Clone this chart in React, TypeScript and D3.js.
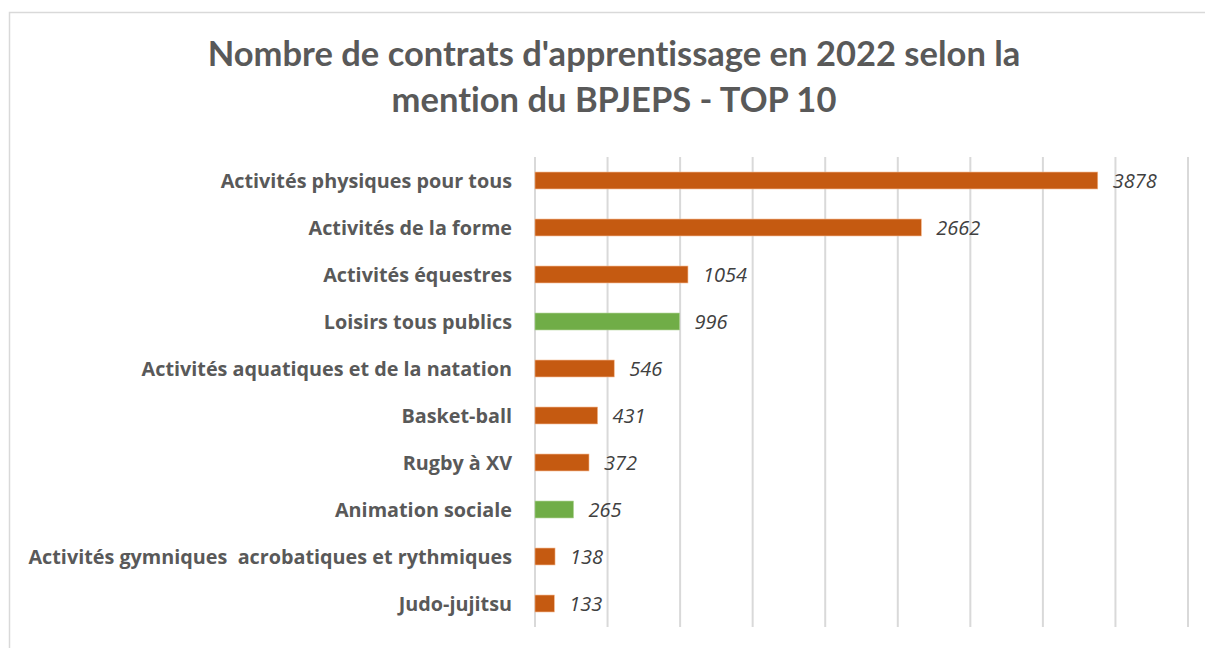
import React from "react";
import * as d3 from "d3";

const categories = [
  "Activités physiques pour tous",
  "Activités de la forme",
  "Activités équestres",
  "Loisirs tous publics",
  "Activités aquatiques et de la natation",
  "Basket-ball",
  "Rugby à XV",
  "Animation sociale",
  "Activités gymniques  acrobatiques et rythmiques",
  "Judo-jujitsu",
];
const values = [3878, 2662, 1054, 996, 546, 431, 372, 265, 138, 133];
const groups = ["sport", "sport", "sport", "animation", "sport", "sport", "sport", "animation", "sport", "sport"];
const ticks = [0, 500, 1000, 1500, 2000, 2500, 3000, 3500, 4000, 4500];
const titleLines = ["Nombre de contrats d'apprentissage en 2022 selon la", "mention du BPJEPS - TOP 10"];

const W = 1205;
const H = 648;
const TFONT = "Lato, 'Open Sans', sans-serif";
const LFONT = "'Open Sans', Lato, sans-serif";

export default function App() {
  const x = d3.scaleLinear().domain([0, 4500]).range([535, 1188]);
  const y = d3.scaleBand<string>().domain(categories).range([157, 627]).paddingInner(0.64).paddingOuter(0.32);
  const color = d3.scaleOrdinal<string, string>().domain(["sport", "animation"]).range(["#C55A11", "#70AD47"]);

  return (
    <div style={{ position: "absolute", left: 0, top: 0 }}>
      <svg width={W} height={H} style={{ display: "block" }}>
        <rect x={0} y={0} width={W} height={H} fill="#fff" />
        <rect x={9.5} y={12.5} width={W + 10} height={H + 10} fill="none" stroke="#d9d9d9" strokeWidth={1.5} />
        {titleLines.map((t, i) => (
          <text
            key={i}
            x={614}
            y={66 + i * 46}
            textAnchor="middle"
            fontFamily={TFONT}
            fontWeight={700}
            fontSize={34.5}
            fill="#595959"
            style={{ fontVariantLigatures: "none", fontFeatureSettings: '"liga" 0, "clig" 0, "dlig" 0', letterSpacing: "0.01px" }}
          >
            {t}
          </text>
        ))}
        {ticks.map((t) => (
          <line key={t} x1={x(t)} x2={x(t)} y1={157} y2={627} stroke="#d9d9d9" strokeWidth={2} />
        ))}
        {categories.map((c, i) => {
          const by = y(c)!;
          const cy = by + y.bandwidth() / 2;
          return (
            <g key={c}>
              <rect x={x(0)} y={by} width={x(values[i]) - x(0)} height={y.bandwidth()} fill={color(groups[i])} stroke={groups[i] === "sport" ? "#F4B183" : "#A9D18E"} strokeWidth={0.6} />
              <text x={512} y={cy} dy="0.36em" textAnchor="end" fontFamily={LFONT} fontWeight={700} fontSize={19.8} fill="#595959" style={{ whiteSpace: "pre" }}>
                {c}
              </text>
              <text x={x(values[i]) + 15} y={cy} dy="0.36em" fontFamily={LFONT} fontStyle="italic" fontSize={20} fill="#404040">
                {values[i]}
              </text>
            </g>
          );
        })}
      </svg>
    </div>
  );
}
